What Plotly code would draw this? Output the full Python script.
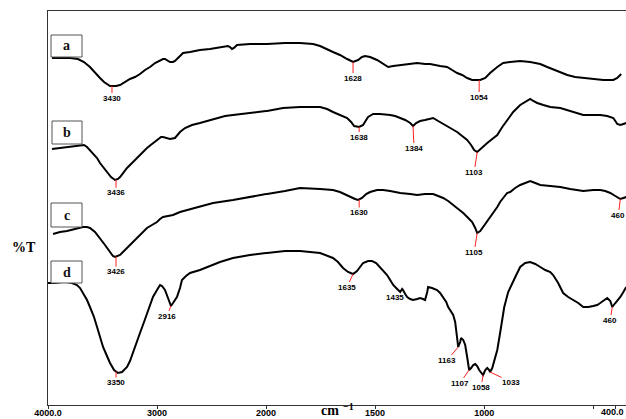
import numpy as np
import plotly.graph_objects as go

# ---------------- data (wavenumber cm-1, transmittance in offset arbitrary units) ----------------
a_wn = [3963, 3798, 3725, 3706, 3670, 3615, 3569, 3523, 3486, 3459, 3431, 3404, 3376, 3339, 3294, 3248,
        3202, 3156, 3110, 3064, 3018, 2972, 2945, 2927, 2899, 2881, 2853, 2835, 2798, 2761, 2697, 2606,
        2514, 2450, 2376, 2349, 2330, 2312, 2294, 2266, 2147, 1995, 1913, 1844, 1784, 1752, 1693, 1661,
        1628, 1601, 1578, 1560, 1546, 1523, 1491, 1463, 1440, 1417, 1385, 1339, 1307, 1271, 1248, 1202,
        1170, 1147, 1124, 1101, 1078, 1055, 1018, 995, 973, 940, 913, 881, 835, 789, 743, 711, 674, 619,
        583, 546, 500, 454, 408, 390, 372]
a_t = [347, 347, 346, 345, 343, 338, 332, 327, 323, 321, 319, 319, 319, 320, 323, 326,
       328, 331, 335, 338, 342, 345, 346, 346, 344, 343, 343, 344, 348, 352, 353, 355,
       356, 357, 358, 359, 358, 356, 357, 360, 361, 361, 362, 362, 361, 359, 353, 350,
       346, 343, 345, 348, 349, 348, 345, 341, 338, 339, 340, 341, 342, 341, 341, 339,
       338, 335, 332, 330, 327, 325, 325, 327, 332, 338, 342, 343, 344, 343, 341, 338, 335, 330,
       328, 327, 326, 325, 325, 327, 331]

b_wn = [3963, 3890, 3826, 3752, 3706, 3670, 3642, 3615, 3587, 3550, 3523, 3486, 3459, 3422, 3385, 3358,
        3339, 3303, 3275, 3229, 3184, 3138, 3092, 3046, 3000, 2963, 2945, 2917, 2881, 2835, 2789, 2743,
        2679, 2606, 2514, 2450, 2376, 2303, 2147, 1995, 1922, 1844, 1752, 1720, 1693, 1661, 1628, 1610,
        1596, 1573, 1555, 1541, 1532, 1509, 1477, 1431, 1408, 1385, 1362, 1339, 1326, 1312, 1294, 1271,
        1234, 1211, 1188, 1156, 1124, 1101, 1078, 1060, 1046, 1032, 1018, 1000, 986, 963, 940, 917, 895,
        867, 835, 812, 789, 775, 757, 729, 697, 651, 619, 583, 546, 500, 468, 436, 408, 390, 376, 362, 349]
b_t = [256, 257, 258, 259, 260, 260, 258, 255, 252, 247, 242, 237, 233, 228, 225, 226,
       228, 233, 237, 242, 247, 252, 257, 261, 265, 268, 268, 267, 266, 267, 273, 277,
       280, 282, 285, 287, 289, 290, 292, 294, 297, 298, 298, 296, 293, 290, 287, 283,
       279, 278, 280, 285, 288, 291, 291, 290, 289, 287, 285, 282, 279, 282, 284, 285,
       287, 284, 281, 277, 273, 269, 265, 260, 255, 253, 256, 259, 262, 266, 270, 278, 285,
       293, 300, 303, 306, 304, 302, 300, 298, 297, 295, 292, 290, 290, 290, 289, 287, 281, 280, 281, 282]

c_wn = [3954, 3890, 3826, 3752, 3679, 3642, 3615, 3569, 3523, 3477, 3431, 3404, 3385, 3358, 3339, 3303,
        3275, 3229, 3184, 3138, 3092, 3046, 3000, 2972, 2945, 2899, 2853, 2789, 2725, 2606, 2486, 2303,
        2147, 1995, 1913, 1844, 1752, 1693, 1661, 1615, 1592, 1578, 1560, 1541, 1523, 1491, 1463, 1431,
        1385, 1339, 1307, 1271, 1234, 1211, 1188, 1165, 1142, 1119, 1096, 1073, 1055, 1041, 1032, 1018,
        1005, 986, 973, 954, 940, 927, 913, 895, 881, 858, 835, 803, 789, 766, 743, 697, 651, 606, 546,
        500, 468, 445, 422, 399, 376, 362, 349]
c_t = [171, 173, 174, 176, 178, 178, 177, 173, 167, 160, 153, 149, 148, 149, 150, 154,
       157, 162, 167, 172, 177, 180, 183, 186, 188, 189, 190, 193, 195, 198, 202, 205,
       208, 211, 214, 217, 216, 215, 213, 208, 206, 205, 207, 211, 213, 215, 215, 214,
       212, 211, 210, 211, 211, 209, 207, 204, 200, 196, 192, 187, 183, 177, 172, 174,
       178, 183, 188, 193, 198, 203, 207, 212, 213, 217, 220, 223, 224, 222, 220, 219, 218, 216, 214,
       215, 215, 214, 212, 209, 206, 207, 208]

d_wn = [4000, 3936, 3872, 3826, 3780, 3734, 3706, 3679, 3642, 3615, 3578, 3550, 3523, 3495, 3459, 3431,
        3394, 3358, 3321, 3275, 3248, 3220, 3184, 3156, 3119, 3092, 3064, 3037, 3000, 2972, 2954, 2927,
        2899, 2872, 2853, 2835, 2817, 2789, 2771, 2734, 2697, 2606, 2541, 2422, 2303, 2147, 1995, 1913,
        1844, 1752, 1693, 1670, 1647, 1624, 1601, 1583, 1569, 1555, 1532, 1514, 1495, 1477, 1459, 1445,
        1431, 1417, 1399, 1385, 1376, 1372, 1362, 1353, 1339, 1326, 1307, 1294, 1280, 1271, 1261, 1257,
        1239, 1216, 1202, 1188, 1174, 1165, 1151, 1142, 1133, 1124, 1119, 1110, 1106, 1096, 1087, 1078,
        1069, 1060, 1050, 1041, 1032, 1023, 1014, 1005, 995, 986, 977, 973, 963, 954, 940, 927, 917,
        908, 890, 872, 853, 835, 812, 789, 766, 743, 720, 697, 684, 661, 638, 615, 592, 569, 546, 523,
        500, 482, 468, 450, 436, 422, 413, 399, 376, 362, 349]
d_t = [122, 122, 123, 123, 122, 120, 117, 112, 105, 98, 88, 78, 68, 58, 49, 42,
       35, 32, 33, 38, 44, 52, 62, 72, 83, 92, 100, 108, 115, 120, 119, 115,
       107, 99, 102, 105, 108, 117, 125, 129, 132, 135, 138, 143, 147, 150, 152, 154,
       154, 152, 147, 143, 137, 133, 131, 134, 138, 142, 144, 144, 142, 138, 134, 130,
       125, 120, 116, 113, 116, 115, 111, 108, 106, 105, 106, 107, 106, 105, 113, 118,
       117, 115, 112, 108, 103, 98, 93, 90, 83, 65, 58, 63, 67, 65, 60, 48,
       35, 37, 40, 41, 39, 35, 32, 30, 35, 37, 35, 33, 37, 45, 55, 72, 87,
       98, 113, 122, 130, 138, 142, 143, 141, 138, 135, 133, 130, 122, 112, 108, 105, 102, 98, 98,
       99, 100, 102, 105, 107, 104, 98, 102, 108, 113, 118]

# peak marks: wavenumber of the marked minimum and its printed label
a_peak_wn = [3413, 1601, 1023]
a_peak_lbl = ["3430", "1628", "1054"]
b_peak_wn = [3376, 1573, 1326, 1032]
b_peak_lbl = ["3436", "1638", "1384", "1103"]
c_peak_wn = [3376, 1573, 1032, 376]
c_peak_lbl = ["3426", "1630", "1105", "460"]
d_peak_wn = [3376, 2872, 1601, 1119, 1069, 1005, 973, 413]
d_peak_lbl = ["3350", "2916", "1635", "1163", "1107", "1058", "1033", "460"]
d_free_wn = [1408]
d_free_t = [108]
d_free_lbl = ["1435"]

x_ticks_left = [4000, 3000, 2000]
x_ticks_left_txt = ["4000.0", "3000", "2000"]
x_ticks_right = [1500, 1000, 500, 400]
x_ticks_right_txt = ["1500", "1000", "", ""]
x_end_lbl = "400.0"

series_names = ["a", "b", "c", "d"]

# ---------------- styling / layout ----------------
W, H = 626, 419
ML, MR, MT, MB = 48, 0, 11, 14
PW, PH = W - ML - MR, H - MT - MB
SPLIT = 2000
DOM = 218 / PW  # fraction of plot width for 4000-2000 (half-scale section)

# label offsets (px) for each peak mark (style)
a_off = [(0, 12), (0, 16), (0, 17)]
b_off = [(0, 13), (0, 10), (1, 22), (-3, 20)]
c_off = [(0, 15), (0, 13), (-3, 19), (-2, 16)]
d_off = [(0, 11), (-4, 10), (-6, 13), (-11, 13), (-9, 13), (-2, 12), (21, 10), (-2, 13)]


def px(x, y):
    return (x - ML) / PW, (H - MB - y) / PH


fig = go.Figure()
LINE = dict(color="black", width=2)

series = [(a_wn, a_t), (b_wn, b_t), (c_wn, c_t), (d_wn, d_t)]
for name, (wn, t) in zip(series_names, series):
    wn = np.asarray(wn, float)
    t = np.asarray(t, float)
    tb = np.interp(SPLIT, wn[::-1], t[::-1])
    lm = wn >= SPLIT
    xl = np.append(wn[lm], SPLIT)
    yl = np.append(t[lm], tb)
    rm = wn < SPLIT
    xr = np.insert(wn[rm], 0, SPLIT)
    yr = np.insert(t[rm], 0, tb)
    fig.add_trace(go.Scatter(x=xl, y=yl, mode="lines", line=LINE, xaxis="x", yaxis="y",
                             showlegend=False, hoverinfo="skip", name=name))
    fig.add_trace(go.Scatter(x=xr, y=yr, mode="lines", line=LINE, xaxis="x2", yaxis="y",
                             showlegend=False, hoverinfo="skip", name=name))

LBLFONT = dict(family="Liberation Sans", size=8, color="black", weight="bold")
annotations = []
peaks = [(a_wn, a_t, a_peak_wn, a_peak_lbl, a_off),
         (b_wn, b_t, b_peak_wn, b_peak_lbl, b_off),
         (c_wn, c_t, c_peak_wn, c_peak_lbl, c_off),
         (d_wn, d_t, d_peak_wn, d_peak_lbl, d_off)]
for wn, t, pw, pl, off in peaks:
    wn = np.asarray(wn, float)
    t = np.asarray(t, float)
    for p, lbl, (ax, ay) in zip(pw, pl, off):
        yv = float(np.interp(p, wn[::-1], t[::-1]))
        annotations.append(dict(
            x=p, y=yv, xref="x" if p >= SPLIT else "x2", yref="y",
            text=lbl, font=LBLFONT, showarrow=True, arrowhead=0, arrowwidth=1,
            arrowcolor="#ff2020", ax=ax, ay=ay, standoff=0, borderpad=0))
for p, yv, lbl in zip(d_free_wn, d_free_t, d_free_lbl):
    annotations.append(dict(x=p, y=yv, xref="x2", yref="y", text=lbl, font=LBLFONT,
                            showarrow=False))

# letter boxes
boxes = {"a": (51, 35, 82, 57), "b": (52, 121, 82, 144), "c": (51, 203, 82, 227), "d": (51, 261, 82, 283)}
shapes = []
for k in series_names:
    x0, y0, x1, y1 = boxes[k]
    px0, py0 = px(x0, y1)
    px1, py1 = px(x1, y0)
    shapes.append(dict(type="rect", xref="paper", yref="paper", x0=px0, y0=py0, x1=px1, y1=py1,
                       line=dict(color="#555555", width=1), fillcolor="white", layer="above"))
    cx, cy = px((x0 + x1) / 2, (y0 + y1) / 2)
    annotations.append(dict(x=cx, y=cy, xref="paper", yref="paper", text=k, showarrow=False,
                            xanchor="center", yanchor="middle",
                            font=dict(family="Liberation Serif", size=14, color="#111111", weight="bold")))

TICKFONT = dict(family="Liberation Sans", size=9, color="black", weight="bold")

tx, ty = px(24, 247)
annotations.append(dict(x=tx, y=ty, xref="paper", yref="paper", text="%T", showarrow=False,
                        xanchor="center", yanchor="middle",
                        font=dict(family="Liberation Serif", size=14, color="black", weight="bold")))
cx, cy = px(330, 410)
annotations.append(dict(x=cx, y=cy, xref="paper", yref="paper", text="cm", showarrow=False,
                        xanchor="center", yanchor="middle", borderpad=0,
                        font=dict(family="Liberation Serif", size=14, color="black", weight="bold")))
sx, sy = px(348, 407)
annotations.append(dict(x=sx, y=sy, xref="paper", yref="paper", text="\u22121", showarrow=False,
                        xanchor="center", yanchor="middle", borderpad=0,
                        font=dict(family="Liberation Serif", size=10, color="black", weight="bold")))
ex, ey = px(625, 412)
annotations.append(dict(x=ex, y=ey, xref="paper", yref="paper", text=x_end_lbl, showarrow=False,
                        xanchor="right", yanchor="middle", borderpad=0, font=TICKFONT))

common_x = dict(showgrid=False, zeroline=False, showline=True, mirror=True, linecolor="#333333",
                linewidth=1, ticks="outside", ticklen=3, tickcolor="#333333", tickfont=TICKFONT,
                tickmode="array", anchor="y", fixedrange=True, automargin=False,
                ticklabelstandoff=-4)

fig.update_layout(
    width=W, height=H, autosize=False,
    margin=dict(l=ML, r=MR, t=MT, b=MB, pad=0, autoexpand=False),
    paper_bgcolor="white", plot_bgcolor="white",
    xaxis=dict(domain=[0, DOM], range=[4000, SPLIT], tickvals=x_ticks_left,
               ticktext=x_ticks_left_txt, **common_x),
    xaxis2=dict(domain=[DOM, 1], range=[SPLIT, 350], tickvals=x_ticks_right,
                ticktext=x_ticks_right_txt, **common_x),
    yaxis=dict(range=[0, PH], showgrid=False, zeroline=False, showline=True, linecolor="#333333",
               linewidth=1, showticklabels=False, ticks="", fixedrange=True, automargin=False),
    annotations=annotations, shapes=shapes, showlegend=False,
)

fig.write_html("out.html", config={"displayModeBar": False})
